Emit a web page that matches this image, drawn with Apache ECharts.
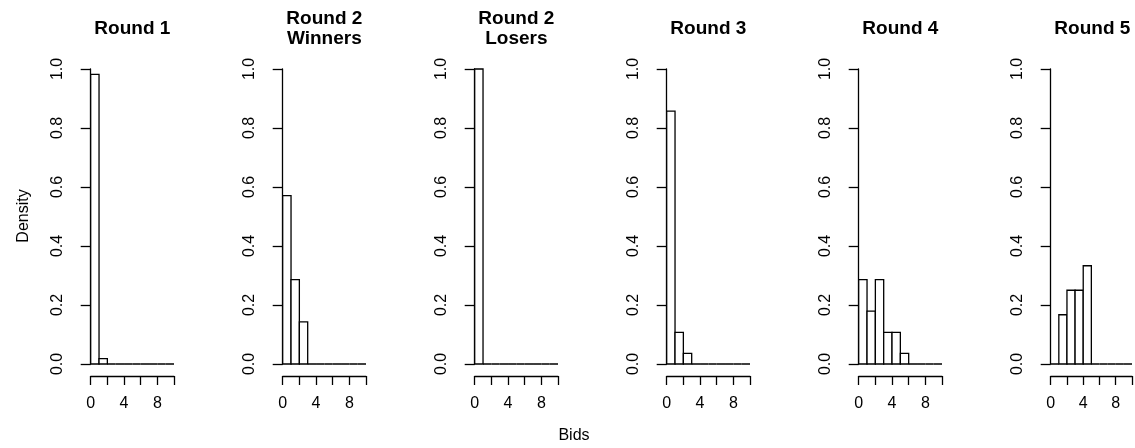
<!DOCTYPE html>
<html>
<head>
<meta charset="utf-8">
<script src="https://cdn.jsdelivr.net/npm/echarts@6/dist/echarts.min.js"></script>
<style>
  html, body { margin: 0; padding: 0; background: #fff; }
  #chart { width: 1135px; height: 448px; }
</style>
</head>
<body>
<div id="chart"></div>
<script>
// Histogram bin breaks (bids 0..10, width 1)
const breaks = [0, 1, 2, 3, 4, 5, 6, 7, 8, 9, 10];

// Panel titles
const titles = ['Round 1', 'Round 2\nWinners', 'Round 2\nLosers', 'Round 3', 'Round 4', 'Round 5'];

// Density per bin for each round
const round1 = [0.982, 0.018, 0, 0, 0, 0, 0, 0, 0, 0];
const round2Winners = [0.571, 0.286, 0.143, 0, 0, 0, 0, 0, 0, 0];
const round2Losers = [1.0, 0, 0, 0, 0, 0, 0, 0, 0, 0];
const round3 = [0.857, 0.107, 0.036, 0, 0, 0, 0, 0, 0, 0];
const round4 = [0.286, 0.179, 0.286, 0.107, 0.107, 0.036, 0, 0, 0, 0];
const round5 = [0, 0.167, 0.25, 0.25, 0.333, 0, 0, 0, 0, 0];

const panels = [round1, round2Winners, round2Losers, round3, round4, round5];

// Axis ticks
const xTicks = { min: 0, max: 10, interval: 2 };
const yTicks = { min: 0, max: 1, interval: 0.2 };

const FONT = 'Liberation Sans, Arial, Helvetica, sans-serif';
const LW = 1.3;

// Layout of the panel row
const firstLeft = 90.7;   // pixel of x = 0 in the first panel
const step = 192;         // distance between panels
const plotW = 83.3;       // pixel width of 0..10
const plotTop = 69;       // pixel of density 1.0
const plotH = 295;        // 0.0 .. 1.0
const pad = plotW * 0.04; // 4% axis extension

const grids = [], xAxes = [], yAxes = [], series = [], graphics = [];

panels.forEach((dens, i) => {
  const left = firstLeft + step * i;
  grids.push({ left: left, top: plotTop, width: plotW, height: plotH });

  xAxes.push({
    type: 'value', gridIndex: i,
    min: xTicks.min, max: xTicks.max, interval: xTicks.interval,
    offset: 12,
    axisLine: { show: true, onZero: false, lineStyle: { color: '#000', width: LW } },
    axisTick: { show: true, inside: false, length: 9, lineStyle: { color: '#000', width: LW } },
    axisLabel: {
      show: true, margin: 20, color: '#000', fontFamily: FONT, fontSize: 16,
      showMinLabel: true, showMaxLabel: true,
      formatter: v => (v % 4 === 0 ? String(v) : '')
    },
    splitLine: { show: false }
  });

  yAxes.push({
    type: 'value', gridIndex: i,
    min: yTicks.min, max: yTicks.max, interval: yTicks.interval,
    offset: pad,
    axisLine: { show: true, lineStyle: { color: '#000', width: LW } },
    axisTick: { show: true, inside: false, length: 10, lineStyle: { color: '#000', width: LW } },
    axisLabel: {
      show: true, rotate: 90, margin: 22, color: '#000', fontFamily: FONT, fontSize: 16,
      showMinLabel: true, showMaxLabel: true,
      formatter: v => v.toFixed(1)
    },
    splitLine: { show: false }
  });

  const data = dens.map((d, k) => [breaks[k], breaks[k + 1], d]);
  series.push({
    type: 'custom', xAxisIndex: i, yAxisIndex: i,
    encode: { x: [0, 1], y: 2 },
    data: data,
    clip: false,
    renderItem: (params, api) => {
      const p0 = api.coord([api.value(0), api.value(2)]);
      const p1 = api.coord([api.value(1), 0]);
      return {
        type: 'rect',
        shape: { x: p0[0], y: p0[1], width: p1[0] - p0[0], height: p1[1] - p0[1] },
        style: { fill: '#fff', stroke: '#000', lineWidth: LW }
      };
    }
  });

  graphics.push({
    type: 'text',
    x: left + plotW / 2, y: 29,
    style: {
      text: titles[i], fill: '#000',
      font: 'bold 19px ' + FONT, lineHeight: 20,
      textAlign: 'center', textVerticalAlign: 'middle'
    }
  });
});

// Shared axis titles
graphics.push({
  type: 'text', x: 24, y: 216, rotation: Math.PI / 2,
  style: { text: 'Density', fill: '#000', font: '16px ' + FONT, textAlign: 'center', textVerticalAlign: 'middle' }
});
graphics.push({
  type: 'text', x: 574, y: 436,
  style: { text: 'Bids', fill: '#000', font: '16px ' + FONT, textAlign: 'center', textVerticalAlign: 'middle' }
});

const chart = echarts.init(document.getElementById('chart'), null, { renderer: 'canvas' });
chart.setOption({
  animation: false,
  backgroundColor: '#fff',
  grid: grids,
  xAxis: xAxes,
  yAxis: yAxes,
  series: series,
  graphic: graphics
});
</script>
</body>
</html>
